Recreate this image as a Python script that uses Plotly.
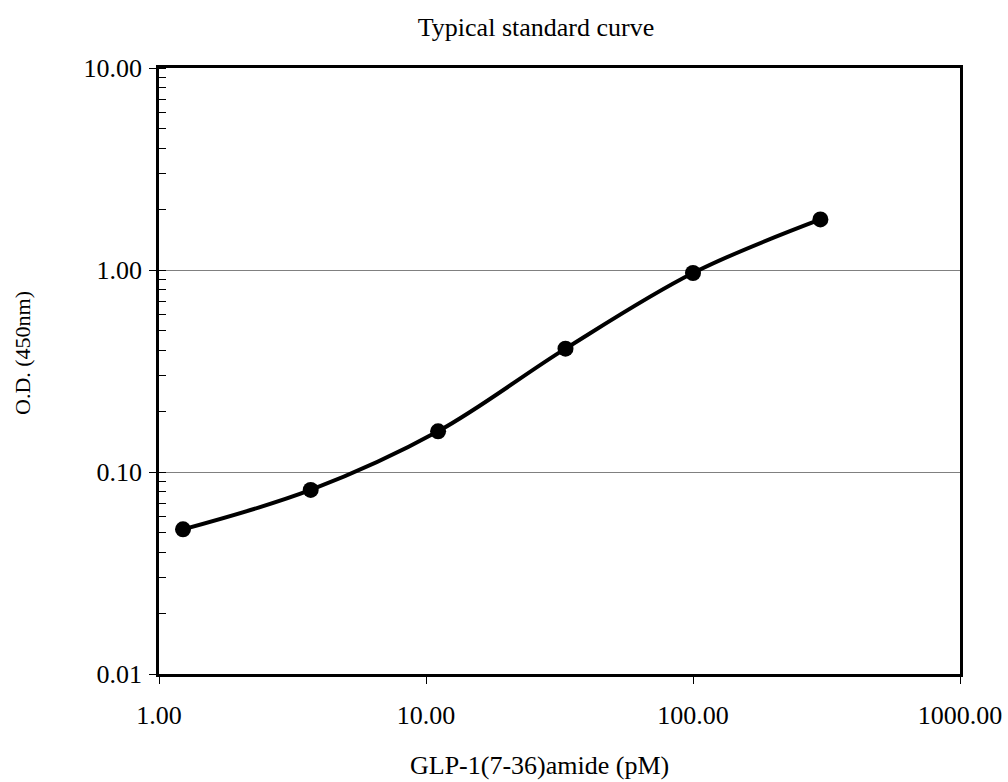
import plotly.graph_objects as go

conc = [1.23, 3.7, 11.1, 33.3, 100, 300]
od = [0.052, 0.0815, 0.159, 0.408, 0.966, 1.78]

x_tickvals = [1, 10, 100, 1000]
x_ticktext = ["1.00", "10.00", "100.00", "1000.00"]
y_tickvals = [0.01, 0.1, 1, 10]
y_ticktext = ["0.01", "0.10", "1.00", "10.00"]

title_text = "Typical standard curve"
x_title = "GLP-1(7-36)amide (pM)"
y_title = "O.D. (450nm)"

font_family = "Liberation Serif, Times New Roman, serif"
W, H = 1008, 782

fig = go.Figure()
fig.add_trace(go.Scatter(
    x=conc, y=od, mode="lines+markers",
    line=dict(color="black", width=4, shape="spline", smoothing=1.0),
    marker=dict(color="black", size=16),
    showlegend=False,
))

fig.update_layout(
    width=W, height=H,
    margin=dict(l=159, r=48, t=68, b=108, autoexpand=False),
    paper_bgcolor="white", plot_bgcolor="white",
    font=dict(family=font_family, color="black", size=26),
    title=dict(text=title_text, x=536 / W, xanchor="center", xref="container",
               y=1 - 27 / H, yanchor="middle", yref="container",
               font=dict(family=font_family, size=26, color="black")),
    annotations=[
        dict(text=x_title, xref="paper", yref="paper",
             x=(539 - 159) / (960 - 159), y=-(765 - 674) / (674 - 68),
             xanchor="center", yanchor="middle", showarrow=False,
             font=dict(family=font_family, size=26, color="black")),
        dict(text=y_title, xref="paper", yref="paper", textangle=-90,
             x=-(159 - 22) / (960 - 159), y=(674 - 353) / (674 - 68),
             xanchor="center", yanchor="middle", showarrow=False,
             font=dict(family=font_family, size=22, color="black")),
    ],
)

fig.update_xaxes(
    type="log", range=[0, 3],
    tickmode="array", tickvals=x_tickvals, ticktext=x_ticktext,
    ticks="outside", ticklen=7, tickwidth=1, tickcolor="black",
    ticklabelstandoff=9,
    showline=True, linecolor="black", linewidth=2.5, mirror=True,
    showgrid=False, zeroline=False, automargin=False,
    tickfont=dict(family=font_family, size=26),
)
fig.update_yaxes(
    type="log", range=[-2, 1],
    tickmode="array", tickvals=y_tickvals, ticktext=y_ticktext,
    ticks="outside", ticklen=7, tickwidth=1, tickcolor="black",
    ticklabelstandoff=2,
    showline=True, linecolor="black", linewidth=2.5, mirror=True,
    showgrid=True, gridcolor="#808080", gridwidth=1, zeroline=False,
    automargin=False,
    minor=dict(tickmode="linear", dtick="D1", ticks="inside", ticklen=7,
               tickcolor="black", tickwidth=1, showgrid=False),
    tickfont=dict(family=font_family, size=26),
)

fig.write_html("out.html", config={"displayModeBar": False},
               post_script="document.body.style.margin='0';")
